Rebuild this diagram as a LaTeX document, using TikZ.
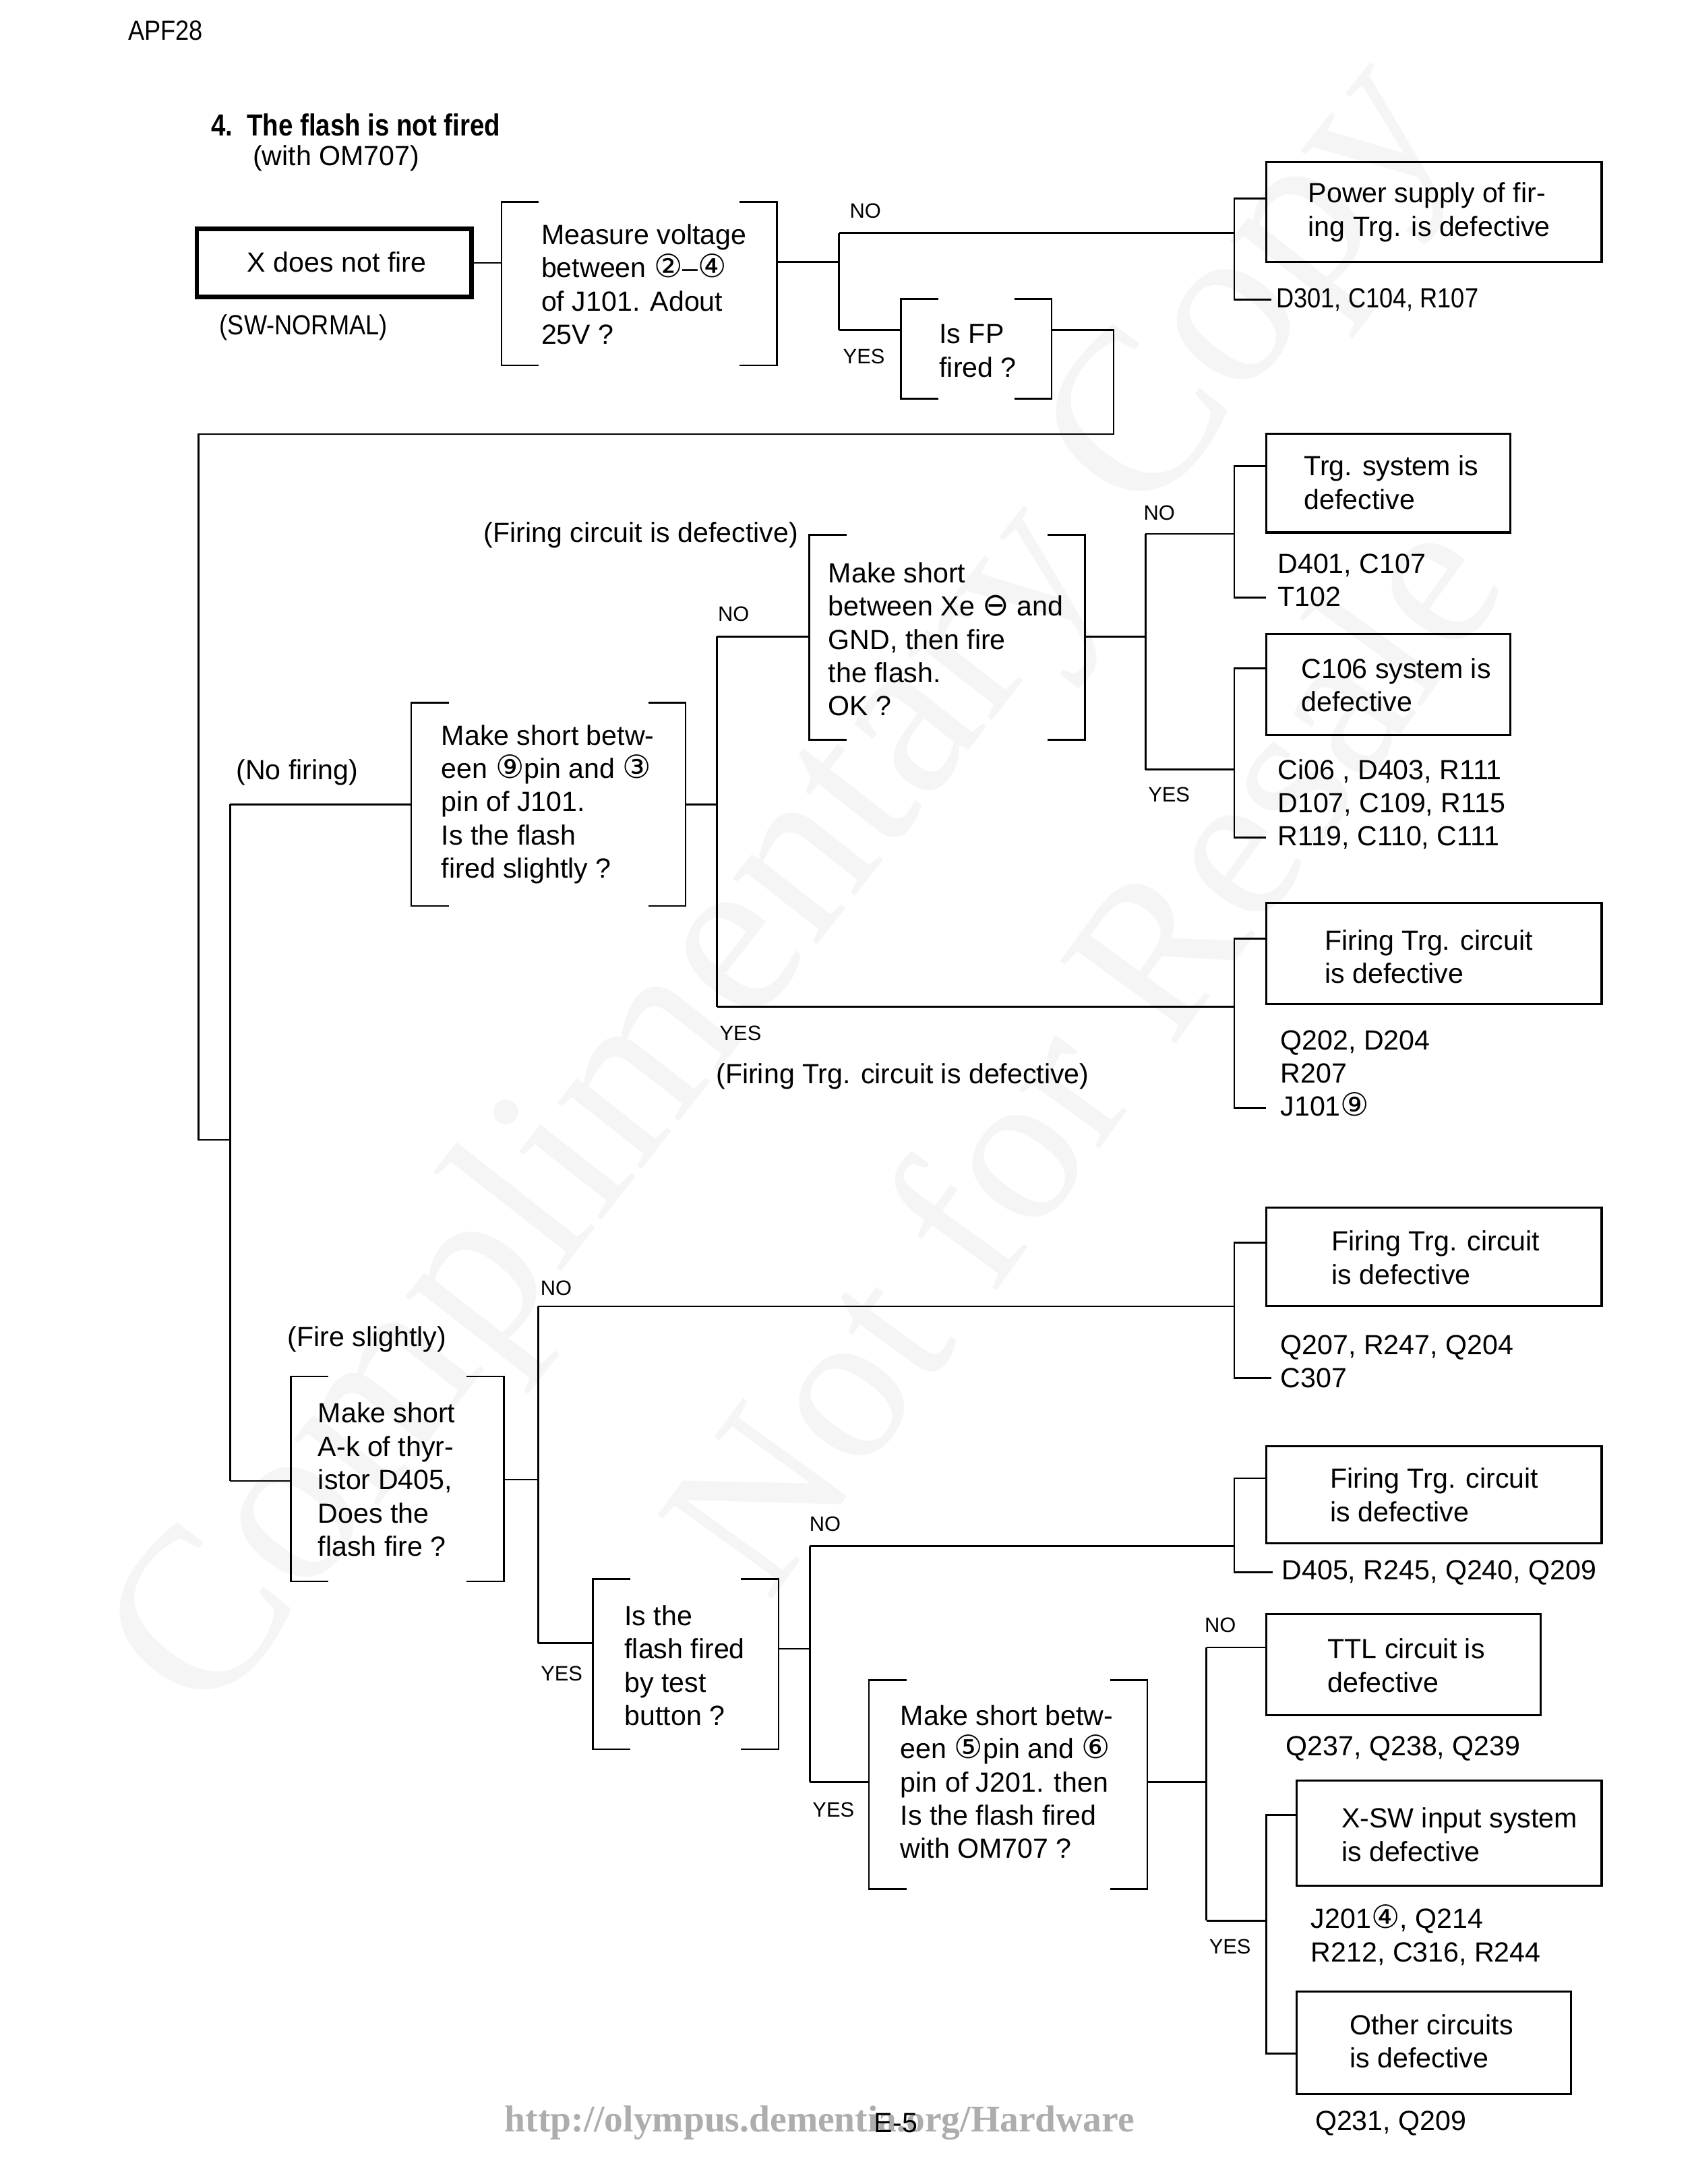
\documentclass[tikz,border=0pt]{standalone}
\usepackage{fontspec}
\setmainfont{Liberation Sans}
\newfontfamily\narrowfont[FakeStretch=0.88]{Liberation Sans}
\newfontfamily\titlefont[FakeStretch=0.85]{Liberation Sans}
\newfontfamily\djv{DejaVu Sans}
\newfontfamily\urlfont{Liberation Serif}
\usetikzlibrary{fit}
\newcommand{\cn}[1]{{\djv\fontsize{11.5}{11.5}\selectfont #1}}
\newcommand{\qbrackets}[1]{%
  \draw[lnk] ([xshift=13.5pt]#1.north west) -- (#1.north west) -- (#1.south west) -- ([xshift=13.5pt]#1.south west);
  \draw[lnk] ([xshift=-13.5pt]#1.north east) -- (#1.north east) -- (#1.south east) -- ([xshift=-13.5pt]#1.south east);}
\newcommand{\rbr}[5]{\draw[lnk] (#4,#2) -- (#1,#2) -- (#1,#3) -- (#5,#3);}
\tikzset{
  lnk/.style={line width=0.65pt},
  resbox/.style={draw, line width=0.75pt, inner sep=0pt},
  qbox/.style={inner sep=0pt},
  txt/.style={anchor=west, align=left, inner sep=0pt, font=\fontsize{10}{12}\selectfont},
  yn/.style={inner sep=0pt, font=\fontsize{7.5}{9}\selectfont},
  wm/.style={inner sep=0pt, text=black!4}
}
\begin{document}
\begin{tikzpicture}[x=0.5pt,y=-0.5pt]
\path[use as bounding box, fill=white] (0,0) rectangle (1220,1575);

% faint watermark
\node[wm, rotate=52, font=\urlfont\fontsize{84}{86}\selectfont] (wm1) at (568,643) {Complimentary Copy};
\node[wm, rotate=54, font=\urlfont\fontsize{78}{80}\selectfont] (wm2) at (778,757) {Not for Resale};

% header
\node[anchor=west, inner sep=0pt, font=\narrowfont\fontsize{10}{12}\selectfont] (hdr) at (92,22) {APF28};
\node[anchor=west, inner sep=0pt, font=\titlefont\bfseries\fontsize{11}{13}\selectfont] (ttl) at (152,90) {4.\hspace{5pt}The flash is not fired};
\node[txt] (sub) at (182,114) {(with OM707)};

% ---------- top section ----------
\node[resbox, line width=1.6pt, fit={(142,165)(340,214)}] (xbox) {};
\node[txt] (xboxT) at (178,189) {X does not fire};
\node[txt, font=\narrowfont\fontsize{10}{12}\selectfont] (sw) at (158,236) {(SW-NORMAL)};

\node[qbox, fit={(362,146)(560,263)}] (q1) {}; \qbrackets{q1}
\node[txt] (q1T) at (390,205) {Measure voltage\\between \cn{②}–\cn{④}\\of J101. Adout\\25V ?};

\node[qbox, fit={(650,216)(758,287)}] (q2) {}; \qbrackets{q2}
\node[txt] (q2T) at (677,253) {Is FP\\fired ?};

\node[resbox, fit={(913,117)(1155,189)}] (ps) {};
\node[txt] (psT) at (943,153) {Power supply of fir-\\ing Trg. is defective};
\node[txt, font=\narrowfont\fontsize{10}{12}\selectfont] (psL) at (920,216) {D301, C104, R107};

\coordinate (j1) at (605,189);
\coordinate (j1n) at (605,168);
\coordinate (j1y) at (605,238);
\draw[lnk] (xbox.east) -- (xbox.east -| q1.west);
\draw[lnk] (q1.east |- j1) -- (j1);
\draw[lnk] (j1n) -- (j1y);
\draw[lnk] (j1n) -- (890,168);
\draw[lnk] (j1y) -- (j1y -| q2.west);
\rbr{890}{143}{216}{913}{917}
\node[yn] (no1) at (624,152) {NO};
\node[yn] (yes1) at (623,257) {YES};

% loop back to left
\draw[lnk] (q2.east |- j1y) -- (803,238) -- (803,313) -- (143,313) -- (143,822) -- (166,822);
\draw[lnk] (166,580) -- (166,1068);

% ---------- middle section ----------
\node[anchor=west, inner sep=0pt, font=\fontsize{10}{12}\selectfont] (nof) at (170,557) {(No firing)};
\node[qbox, fit={(297,507)(494,653)}] (q3) {}; \qbrackets{q3}
\node[txt] (q3T) at (318,580) {Make short betw-\\een \cn{⑨}pin and \cn{③}\\pin of J101.\\Is the flash\\fired slightly ?};
\draw[lnk] (166,580) -- (q3.west);

\coordinate (j3) at (517,580);
\draw[lnk] (q3.east) -- (j3);
\draw[lnk] (517,459) -- (517,726);
\node[yn] (no3) at (529,443) {NO};
\node[yn] (yes3) at (534,745) {YES};

\node[anchor=east, inner sep=0pt, font=\fontsize{10}{12}\selectfont] (fcd) at (576,386) {(Firing circuit is defective)};
\node[qbox, fit={(584,386)(782,533)}] (q4) {}; \qbrackets{q4}
\node[txt] (q4T) at (597,461) {Make short\\between Xe \cn{⊖} and\\GND, then fire\\the flash.\\OK ?};
\draw[lnk] (517,459) -- (q4.west |- 517,459);

\coordinate (j4) at (826,459);
\draw[lnk] (q4.east |- j4) -- (j4);
\draw[lnk] (826,385) -- (826,555);
\draw[lnk] (826,385) -- (890,385);
\draw[lnk] (826,555) -- (890,555);
\node[yn] (no4) at (836,370) {NO};
\node[yn] (yes4) at (843,573) {YES};

\node[resbox, fit={(913,313)(1089,384)}] (trg) {};
\node[txt] (trgT) at (940,348) {Trg. system is\\defective};
\rbr{890}{336}{431}{913}{913}
\node[txt] (trgL) at (921,418.5) {D401, C107\\T102};

\node[resbox, fit={(913,457)(1089,530)}] (c106) {};
\node[txt] (c106T) at (938,494) {C106 system is\\defective};
\rbr{890}{482}{604}{913}{913}
\node[txt] (c106L) at (921,580) {Ci06 , D403, R111\\D107, C109, R115\\R119, C110, C111};

\draw[lnk] (517,726) -- (890,726);
\node[resbox, fit={(913,651)(1155,724)}] (ft1) {};
\node[txt] (ft1T) at (955,690) {Firing Trg. circuit\\is defective};
\rbr{890}{677}{799}{913}{913}
\node[txt] (ft1L) at (923,774) {Q202, D204\\R207\\J101\cn{⑨}};
\node[anchor=west, inner sep=0pt, font=\fontsize{10}{12}\selectfont] (ftd) at (516,776) {(Firing Trg. circuit is defective)};

% ---------- lower section ----------
\node[anchor=west, inner sep=0pt, font=\fontsize{10}{12}\selectfont] (fsl) at (207,966) {(Fire slightly)};
\node[qbox, fit={(210,993)(363,1140)}] (q5) {}; \qbrackets{q5}
\node[txt] (q5T) at (229,1067) {Make short\\A-k of thyr-\\istor D405,\\Does the\\flash fire ?};
\draw[lnk] (166,1068) -- (q5.west |- 166,1068);

\coordinate (j5) at (388,1067);
\draw[lnk] (q5.east |- j5) -- (j5);
\draw[lnk] (388,942) -- (388,1185);
\draw[lnk] (388,942) -- (890,942);
\node[yn] (no5) at (401,929) {NO};
\node[yn] (yes5) at (405,1207) {YES};

\node[resbox, fit={(913,871)(1155,942)}] (ft2) {};
\node[txt] (ft2T) at (960,907) {Firing Trg. circuit\\is defective};
\rbr{890}{896}{994}{913}{917}
\node[txt] (ft2L) at (923,982) {Q207, R247, Q204\\C307};

\node[qbox, fit={(428,1139)(561,1261)}] (q6) {}; \qbrackets{q6}
\node[txt] (q6T) at (450,1201) {Is the\\flash fired\\by test\\button ?};
\draw[lnk] (388,1185) -- (q6.west |- 388,1185);

\coordinate (j6) at (584,1189);
\draw[lnk] (q6.east |- j6) -- (j6);
\draw[lnk] (584,1115) -- (584,1285);
\draw[lnk] (584,1115) -- (890,1115);
\node[yn] (no6) at (595,1099) {NO};
\node[yn] (yes6) at (601,1305) {YES};

\node[resbox, fit={(913,1043)(1155,1113)}] (ft3) {};
\node[txt] (ft3T) at (959,1078) {Firing Trg. circuit\\is defective};
\rbr{890}{1066}{1134}{913}{918}
\node[txt] (ft3L) at (924,1134) {D405, R245, Q240, Q209};

\node[qbox, fit={(627,1212)(827,1362)}] (q7) {}; \qbrackets{q7}
\node[txt] (q7T) at (649,1285) {Make short betw-\\een \cn{⑤}pin and \cn{⑥}\\pin of J201. then\\Is the flash fired\\with OM707 ?};
\draw[lnk] (584,1285) -- (q7.west |- 584,1285);

\coordinate (j7) at (870,1285);
\draw[lnk] (q7.east |- j7) -- (j7);
\draw[lnk] (870,1188) -- (870,1385);
\node[yn] (no7) at (880,1172) {NO};
\node[yn] (yes7) at (887,1404) {YES};

\node[resbox, fit={(913,1164)(1111,1237)}] (ttl2) {};
\node[txt] (ttlT) at (957,1201) {TTL circuit is\\defective};
\draw[lnk] (870,1188) -- (ttl2.west |- 870,1188);
\node[txt] (ttlL) at (927,1261) {Q237, Q238, Q239};

\draw[lnk] (870,1385) -- (913,1385);
\node[resbox, fit={(935,1284)(1155,1360)}] (xsw) {};
\node[txt] (xswT) at (967,1323) {X-SW input system\\is defective};
\node[resbox, fit={(935,1436)(1133,1510)}] (oth) {};
\node[txt] (othT) at (973,1472) {Other circuits\\is defective};
\draw[lnk] (xsw.west |- 913,1309) -- (913,1309) -- (913,1481) -- (oth.west |- 913,1481);
\node[txt] (xswL) at (945,1395.5) {J201\cn{④}, Q214\\R212, C316, R244};
\node[txt] (othL) at (948,1531) {Q231, Q209};

% footer
\node[inner sep=0pt, text=black!32, font=\urlfont\bfseries\fontsize{13.5}{15}\selectfont] (url) at (591,1531) {http://olympus.dementia.org/Hardware};
\node[inner sep=0pt, font=\fontsize{10}{12}\selectfont] (pg) at (646,1531) {E-5};
\end{tikzpicture}
\end{document}
